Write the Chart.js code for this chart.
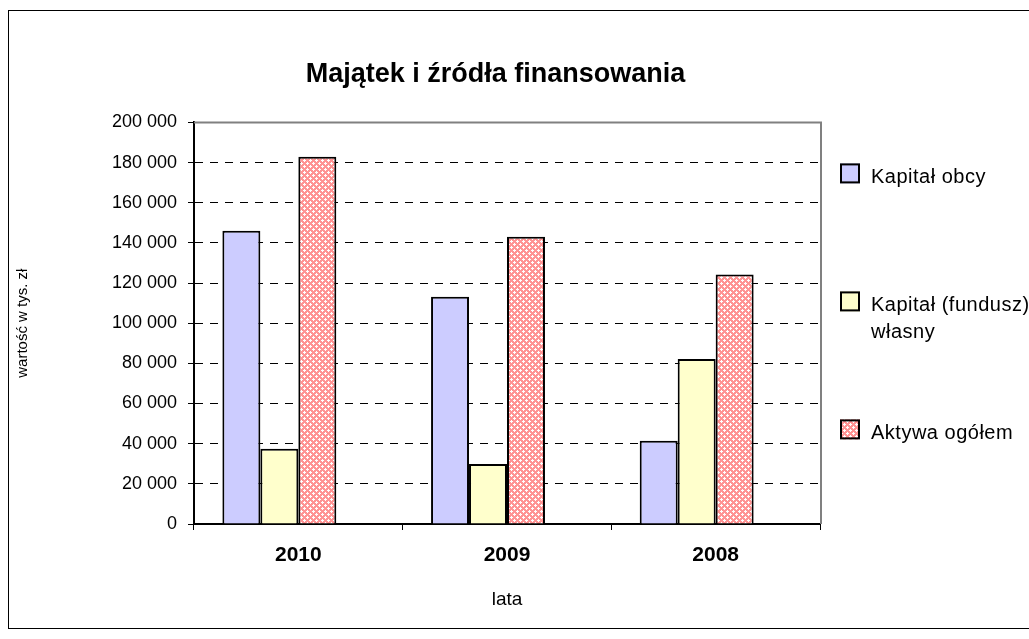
<!DOCTYPE html>
<html>
<head>
<meta charset="utf-8">
<script src="https://cdn.jsdelivr.net/npm/chart.js@4"></script>
<style>
  html, body { margin: 0; padding: 0; background: #fff; overflow: hidden; }
  canvas { display: block; }
</style>
</head>
<body>
<canvas id="chart" width="1029" height="639"></canvas>
<script>
// data
const years = ["2010", "2009", "2008"];
const kapitalObcy = [146000, 113200, 41400];
const kapitalWlasny = [37500, 29900, 82200];
const aktywaOgolem = [182900, 143100, 124200];
const pustaSeria = [null, null, null]; // empty 4th series of the sheet, keeps the bar slots
const yMax = 200000;
const yStep = 20000;

Chart.defaults.font.family = "'Liberation Sans', Arial, sans-serif";
Chart.defaults.color = "#000";

function formatPl(v) {
  return String(v).replace(/\B(?=(\d{3})+(?!\d))/g, " ");
}

// pink lattice fill like the excel pattern
function crossHatch() {
  const c = document.createElement("canvas");
  c.width = 6;
  c.height = 6;
  const g = c.getContext("2d");
  g.fillStyle = "#ff9494";
  g.fillRect(0, 0, 6, 6);
  g.fillStyle = "#ffffff";
  [[1, 0], [0, 1], [1, 1], [2, 1], [1, 2], [4, 3], [3, 4], [4, 4], [5, 4], [4, 5]].forEach(([x, y]) => g.fillRect(x, y, 1, 1));
  return g.createPattern(c, "repeat");
}

function wrapText(ctx, text, maxWidth) {
  const words = text.split(" ");
  const lines = [];
  let line = "";
  words.forEach((w) => {
    const test = line ? line + " " + w : w;
    if (line && ctx.measureText(test).width > maxWidth) {
      lines.push(line);
      line = w;
    } else {
      line = test;
    }
  });
  if (line) lines.push(line);
  return lines;
}

// outer frame + plot area border (grey top/right)
const frame = {
  id: "frame",
  beforeDraw(chart) {
    const { ctx } = chart;
    ctx.save();
    ctx.fillStyle = "#fff";
    ctx.fillRect(0, 0, chart.width, chart.height);
    ctx.strokeStyle = "#000";
    ctx.lineWidth = 1;
    ctx.strokeRect(8.5, 10.5, 1100, 618);
    ctx.restore();
  },
  beforeDatasetsDraw(chart) {
    const { ctx, chartArea } = chart;
    ctx.save();
    ctx.strokeStyle = "#808080";
    ctx.lineWidth = 2;
    ctx.beginPath();
    ctx.moveTo(chartArea.left, chartArea.top);
    ctx.lineTo(chartArea.right + 1, chartArea.top);
    ctx.lineTo(chartArea.right + 1, chartArea.bottom);
    ctx.stroke();
    ctx.restore();
  },
};

// legend on the right, labels wrap like in excel
const sideLegend = {
  id: "sideLegend",
  afterDraw(chart) {
    const { ctx, chartArea } = chart;
    const boxX = chartArea.right + 20;
    const textX = chartArea.right + 51;
    let base = chartArea.top + 61;
    ctx.save();
    ctx.font = "20px 'Liberation Sans', Arial, sans-serif";
    ctx.letterSpacing = "0.5px";
    ctx.textBaseline = "alphabetic";
    chart.data.datasets.forEach((ds) => {
      if (!ds.label) return;
      ctx.fillStyle = ds.backgroundColor;
      ctx.fillRect(boxX, base - 20, 20, 20);
      ctx.strokeStyle = "#000";
      ctx.lineWidth = 2;
      ctx.strokeRect(boxX + 1, base - 19, 18, 18);
      ctx.fillStyle = "#000";
      wrapText(ctx, ds.label, 160).forEach((line, i) => {
        ctx.fillText(line, textX, base + i * 27);
      });
      base += 128;
    });
    ctx.restore();
  },
};

new Chart(document.getElementById("chart"), {
  type: "bar",
  data: {
    labels: years,
    datasets: [
      { label: "Kapitał obcy", data: kapitalObcy, backgroundColor: "#ccccff" },
      { label: "Kapitał (fundusz) własny", data: kapitalWlasny, backgroundColor: "#ffffcc" },
      { label: "Aktywa ogółem", data: aktywaOgolem, backgroundColor: crossHatch() },
      { label: "", data: pustaSeria, backgroundColor: "#ffffff" },
    ].map((ds) => ({
      ...ds,
      borderColor: "#000",
      borderWidth: 2,
      categoryPercentage: 0.728,
      barPercentage: 1,
    })),
  },
  options: {
    responsive: false,
    animation: false,
    devicePixelRatio: 1,
    layout: { padding: { left: 10, right: 48, top: 10, bottom: 15 } },
    plugins: {
      legend: { display: false },
      tooltip: { enabled: false },
      title: {
        display: true,
        text: "Majątek i źródła finansowania",
        color: "#000",
        font: { size: 27, weight: "bold" },
        padding: { top: 48, bottom: 32 },
      },
    },
    scales: {
      x: {
        grid: {
          offset: true,
          drawOnChartArea: false,
          drawTicks: true,
          tickLength: 6,
          color: "#000",
          lineWidth: 1,
        },
        border: { color: "#000", width: 2 },
        ticks: { color: "#000", font: { size: 21, weight: "bold" }, padding: 13 },
        title: {
          display: true,
          text: "lata",
          color: "#000",
          font: { size: 19 },
          padding: { top: 0, bottom: 13 },
        },
        afterFit(scale) {
          scale.height = 100;
        },
      },
      y: {
        min: 0,
        max: yMax,
        ticks: {
          stepSize: yStep,
          color: "#000",
          font: { size: 18 },
          padding: 11,
          callback: (v) => formatPl(v),
        },
        grid: {
          color: "#000",
          lineWidth: 1,
          tickLength: 6,
          tickColor: "#000",
          tickBorderDash: [],
        },
        border: { color: "#000", width: 2, dash: [8, 7] },
        title: {
          display: true,
          text: "wartość w tys. zł",
          color: "#000",
          font: { size: 15 },
          padding: { top: 4, bottom: 0 },
        },
        afterFit(scale) {
          scale.width = 184;
        },
      },
      // empty right axis only reserves the room of the legend
      legendSpace: {
        type: "linear",
        axis: "y",
        position: "right",
        ticks: { display: false },
        grid: { display: false },
        border: { display: false },
        afterFit(scale) {
          scale.width = 161;
        },
      },
    },
  },
  plugins: [frame, sideLegend],
});
</script>
</body>
</html>
